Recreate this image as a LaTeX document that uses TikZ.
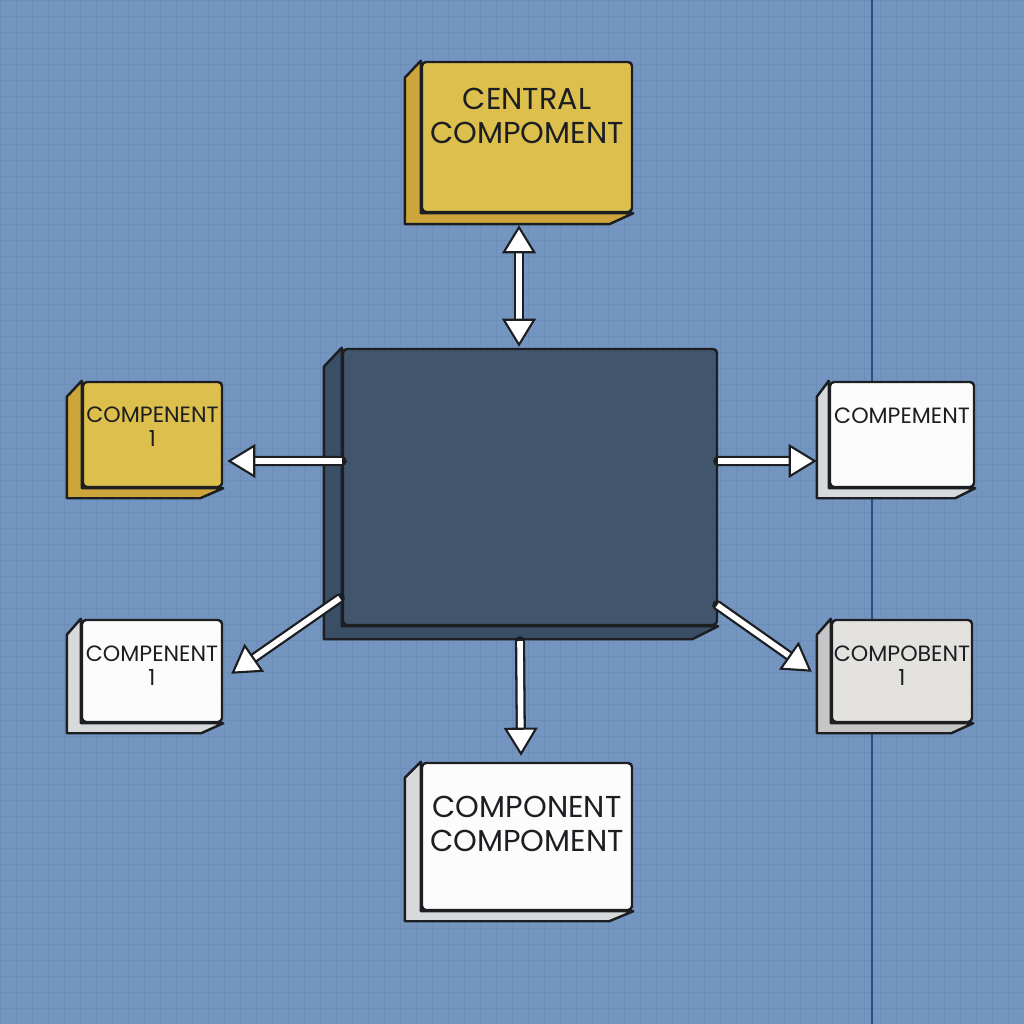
\documentclass[tikz,border=0pt]{standalone}
\usepackage{fontspec}
\setmainfont{Poppins}
\usetikzlibrary{arrows.meta,positioning}
\definecolor{bgblue}{HTML}{7395C0}
\definecolor{gridblue}{HTML}{5F80AA}
\definecolor{lineblue}{HTML}{2A4E7E}
\definecolor{edge}{HTML}{1C1E22}
\definecolor{yfront}{HTML}{DDBF4E}
\definecolor{yside}{HTML}{CCA63A}
\definecolor{dfront}{HTML}{41566C}
\definecolor{dside}{HTML}{3A4E66}
\definecolor{wfront}{HTML}{FCFCFC}
\definecolor{wside}{HTML}{D8D9DB}
\definecolor{gfront}{HTML}{E3E2DF}
\definecolor{gside}{HTML}{C6C6C6}

\begin{document}
\begin{tikzpicture}[x=0.1mm,y=-0.1mm,line cap=round,line join=round,
  face/.style={draw=edge,line width=0.7pt,rounded corners=0.4mm},
  side/.style={draw=edge,line width=0.7pt},
  bigtxt/.style={inner sep=0pt,align=center,text=edge,font=\fontsize{8.6}{9.6}\selectfont},
  smalltxt/.style={inner sep=0pt,align=center,text=edge,font=\fontsize{6.3}{6.9}\selectfont},
  wtip/.tip={Triangle[length=8pt,width=9.6pt,color=edge,fill=white,line width=0.6pt]},
  conn/.style={draw=white,line width=1.6pt,line cap=butt,-wtip,preaction={draw=edge,line width=2.9pt,arrows=-,shorten >=6pt}},
  dconn/.style={draw=white,line width=1.6pt,line cap=butt,wtip-wtip,preaction={draw=edge,line width=2.9pt,arrows=-,shorten >=6pt,shorten <=6pt}}]
\useasboundingbox (0,0) rectangle (1024,1024);
\fill[bgblue] (0,0) rectangle (1024,1024);
\draw[gridblue,opacity=0.3,line width=0.2pt,step=1.6mm] (0,0) grid (1024,1024);
\draw[lineblue,line width=0.5pt] (872,0) -- (872,1024);

% front faces
\node[face,fill=yfront,minimum width=21mm,minimum height=15mm] (cen) at (527,137) {};
\node[face,fill=dfront,minimum width=37.4mm,minimum height=27.6mm] (big) at (530,487) {};
\node[face,fill=yfront,minimum width=13.9mm,minimum height=10.5mm] (lt) at (152.5,434.5) {};
\node[face,fill=wfront,minimum width=14.4mm,minimum height=10.5mm] (rt) at (902,434.5) {};
\node[face,fill=wfront,minimum width=14mm,minimum height=10.2mm] (lb) at (152,671) {};
\node[face,fill=gfront,minimum width=14mm,minimum height=10.2mm] (rb) at (902,671) {};
\node[face,fill=wfront,minimum width=21mm,minimum height=14.7mm] (bc) at (527,836.5) {};

% sides of the boxes
\foreach \n/\s/\dx/\dy in {cen/yside/16/11, big/dside/18/13, lt/yside/15/10, rt/wside/12/10,
    lb/wside/14/10, rb/gside/14/10, bc/wside/16/10}
  \filldraw[side,fill=\s] (\n.north west) -- ([shift={(-\dx,\dy+6)}]\n.north west)
    -- ([shift={(-\dx,\dy)}]\n.south west) -- ([shift={(-\dx-8,\dy)}]\n.south east)
    -- (\n.south east) -- (\n.south west) -- cycle;

% connectors
\draw[dconn] ([shift={(-8,12)}]cen.south) -- ([shift={(-11,-1)}]big.north);
\draw[conn] ([shift={(0,-26)}]big.west) -- ([shift={(4,26.5)}]lt.east);
\draw[conn] ([shift={(0,-26)}]big.east) -- ([shift={(-12,26.5)}]rt.west);
\draw[conn] ([shift={(-2,-28)}]big.south west) -- ([shift={(8,55)}]lb.north east);
\draw[conn] ([shift={(-1,-21)}]big.south east) -- ([shift={(-19,53)}]rb.north west);
\draw[conn] ([shift={(-10,15)}]big.south) -- ([shift={(-6,-6)}]bc.north);

% labels
\node[bigtxt,below=2.7mm of cen.north] (cenlbl) {CENTRAL\\COMPOMENT};
\node[smalltxt,below=2.5mm of lt.north] (ltlbl) {COMPENENT\\1};
\node[smalltxt,below=2.6mm of rt.north] (rtlbl) {COMPEMENT};
\node[smalltxt,below=2.6mm of lb.north] (lblbl) {COMPENENT\\1};
\node[smalltxt,below=2.6mm of rb.north] (rblbl) {COMPOBENT\\1};
\node[bigtxt,below=3.4mm of bc.north] (bclbl) {COMPONENT\\COMPOMENT};
\end{tikzpicture}
\end{document}
